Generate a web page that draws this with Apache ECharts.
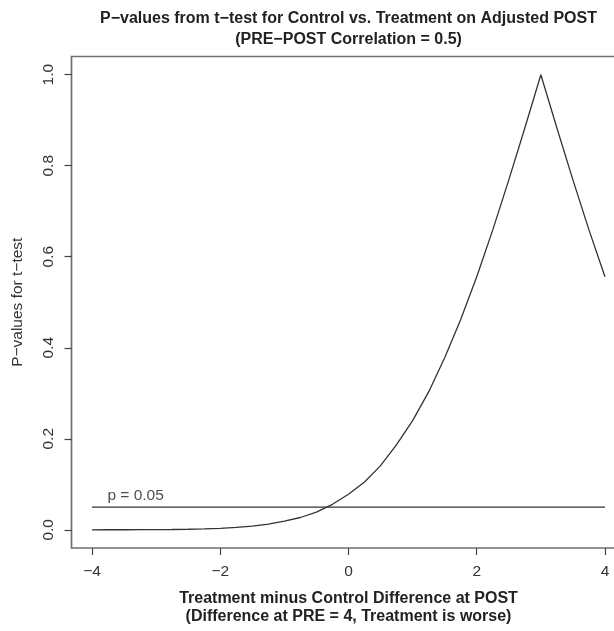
<!DOCTYPE html>
<html>
<head>
<meta charset="utf-8">
<script src="https://cdn.jsdelivr.net/npm/echarts@6/dist/echarts.min.js"></script>
<style>
  html, body { margin: 0; padding: 0; background: #fff; overflow: hidden; }
  /* the plot box runs past the right edge of the picture, as in the original */
  #chart { width: 660px; height: 631px; }
</style>
</head>
<body>
<div id="chart"></div>
<script>
// difference at POST (x) and the p-value
const diffs = [-4, -3.75, -3.5, -3.25, -3, -2.75, -2.5, -2.25, -2, -1.75, -1.5, -1.25, -1,
  -0.75, -0.5, -0.25, 0, 0.25, 0.5, 0.75, 1, 1.25, 1.5, 1.75, 2, 2.25, 2.5, 2.75, 3,
  3.25, 3.5, 3.75, 4]
const pvals = [0.000, 0.0001, 0.0001, 0.0002, 0.0004, 0.0007, 0.0012, 0.002, 0.0033, 0.0053,
  0.008, 0.0124, 0.019, 0.027, 0.039, 0.056, 0.078, 0.105, 0.141, 0.187, 0.240, 0.303,
  0.378, 0.462, 0.556, 0.659, 0.769, 0.883, 1.0, 0.883, 0.769, 0.659, 0.556]

const cutoffX = [-4, 4]
const cutoff = 0.05
const cutoffLabel = 'p = 0.05'
const cutoffLabelPos = [-3.32, 0.075]

const xTicks = [-4, -2, 0, 2, 4]
const yTicks = [0, 0.2, 0.4, 0.6, 0.8, 1.0]

const font = '"Liberation Sans", Arial, Helvetica, sans-serif'
const minus = s => String(s).replace('-', '\u2212')

const chart = echarts.init(document.getElementById('chart'))
chart.setOption({
  animation: false,
  title: {
    text: 'P\u2212values from t\u2212test for Control vs. Treatment on Adjusted POST\n(PRE\u2212POST Correlation = 0.5)',
    left: 348.5,
    top: 8,
    textAlign: 'center',
    padding: 0,
    textStyle: { fontFamily: font, fontSize: 16, fontWeight: 'bold', color: '#222', lineHeight: 21 }
  },
  grid: { left: 71.5, top: 56.5, width: 554, height: 495, show: true, borderColor: '#6e6e6e', borderWidth: 1.7, backgroundColor: 'transparent' },
  xAxis: {
    type: 'value',
    min: -4.32,
    max: 4.32,
    name: 'Treatment minus Control Difference at POST\n(Difference at PRE = 4, Treatment is worse)',
    nameLocation: 'middle',
    nameGap: 42,
    nameTextStyle: { fontFamily: font, fontSize: 16, fontWeight: 'bold', color: '#222', lineHeight: 18 },
    axisLine: { show: false, onZero: false },
    axisTick: { show: true, length: 7, customValues: xTicks, lineStyle: { color: '#444', width: 1.2 } },
    axisLabel: { customValues: xTicks, formatter: v => minus(v), fontFamily: font, fontSize: 15.5, color: '#333', margin: 16 },
    splitLine: { show: false }
  },
  yAxis: {
    type: 'value',
    min: -0.04,
    max: 1.04,
    name: 'P\u2212values for t\u2212test',
    nameLocation: 'middle',
    nameGap: 46,
    nameTextStyle: { fontFamily: font, fontSize: 15.5, color: '#333' },
    axisLine: { show: false, onZero: false },
    axisTick: { show: true, length: 7, customValues: yTicks, lineStyle: { color: '#444', width: 1.2 } },
    axisLabel: { customValues: yTicks, rotate: 90, formatter: v => v.toFixed(1), fontFamily: font, fontSize: 15.5, color: '#333', margin: 15 },
    splitLine: { show: false }
  },
  series: [
    {
      type: 'line',
      data: diffs.map((d, i) => [d, pvals[i]]),
      showSymbol: false,
      lineStyle: { color: '#333', width: 1.3 },
      z: 3
    },
    {
      type: 'line',
      data: cutoffX.map(d => [d, cutoff]),
      showSymbol: false,
      lineStyle: { color: '#333', width: 1.3 }
    },
    {
      type: 'scatter',
      data: [cutoffLabelPos],
      symbolSize: 0,
      label: {
        show: true,
        position: 'inside',
        formatter: cutoffLabel,
        fontFamily: font,
        fontSize: 15.5,
        color: '#222'
      }
    }
  ]
})
</script>
</body>
</html>
